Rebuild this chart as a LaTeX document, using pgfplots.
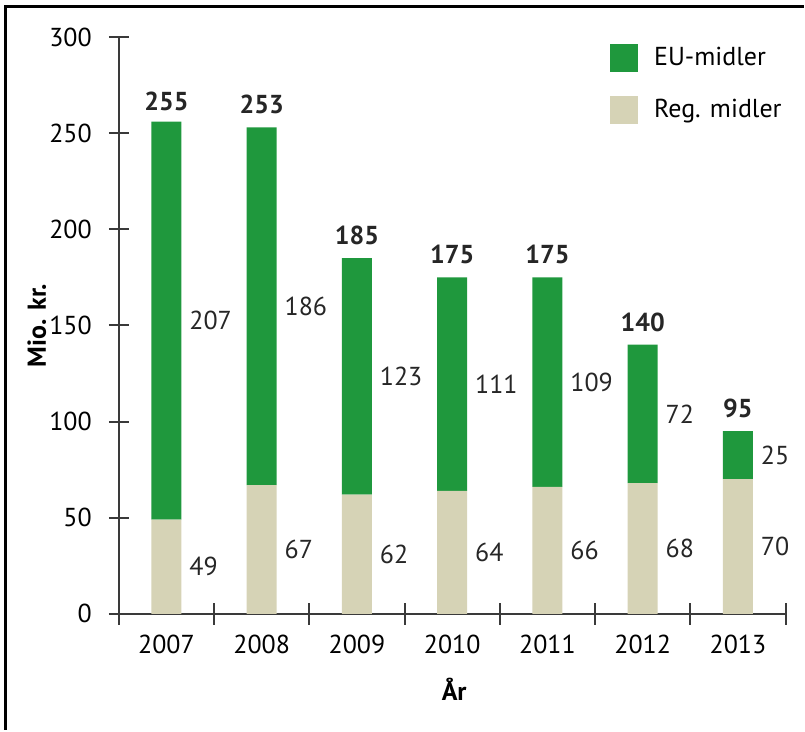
\documentclass[border=0pt]{standalone}
\usepackage{fontspec}
\setmainfont{PT Sans}
\usepackage{pgfplots}
\usepackage{pgfplotstable}
\pgfplotsset{compat=1.18}
\definecolor{eugreen}{HTML}{1F983D}
\definecolor{regbeige}{HTML}{D6D3B6}
\definecolor{axisgray}{HTML}{3A3A3A}

\pgfplotstableread{
x reg eu total
0 49 207 255
1 67 186 253
2 62 123 185
3 64 111 175
4 66 109 175
5 68 72 140
6 70 25 95
}\data

\pgfplotsset{
  /pgf/number format/assume math mode=true,
  base/.style={
    width=334pt, height=289pt, scale only axis,
    xmin=-0.5, xmax=6.5, ymin=0, ymax=300,
    clip=false,
  },
}

\begin{document}
\begin{tikzpicture}[font=\fontsize{13}{15}\selectfont]
\begin{axis}[base,
  at={(0,0)}, anchor=south west,
  ybar stacked, bar width=15pt,
  axis x line=bottom, axis y line=left,
  axis line style={-, axisgray, line width=1pt},
  tick style={axisgray, line width=1pt},
  tick align=center, major tick length=10pt, minor tick length=11pt,
  xtick={0,...,6},
  xticklabels={2007,2008,2009,2010,2011,2012,2013},
  major x tick style={draw=none},
  minor xtick={-0.5,0.5,...,6.5},
  ytick={0,50,...,300},
  xticklabel style={yshift=-2pt},
  yticklabel style={xshift=-5pt},
  xlabel={\bfseries År},
  xlabel style={at={(axis description cs:0.503,-0.13)}, anchor=center},
  ylabel={\bfseries Mio. kr.},
  ylabel style={at={(axis description cs:-0.123,0.5)}, anchor=center},
  reverse legend,
  legend style={at={(rel axis cs:0.7275,0.995)}, anchor=north west,
    draw=none, fill=none, row sep=12pt,
    nodes={inner sep=1pt}},
  legend cell align=left,
  legend image code/.code={\fill[#1] (0pt,-7pt) rectangle (14pt,7pt); \path (21pt,0pt);},
]
\addplot[fill=regbeige, draw=none] table[x=x, y=reg] {\data};
\addlegendentry{Reg. midler}
\addplot[fill=eugreen, draw=none] table[x=x, y=eu] {\data};
\addlegendentry{EU-midler}
\end{axis}

\begin{axis}[base, at={(0,0)}, anchor=south west, hide axis]
% Reg. midler values, right of the bars
\addplot[draw=none, mark=none, nodes near coords, point meta=explicit,
  every node near coord/.style={anchor=west, xshift=8pt, text=black!85}]
  table[x=x, y expr=\thisrow{reg}/2, meta=reg] {\data};
% EU-midler values, right of the bars
\addplot[draw=none, mark=none, nodes near coords, point meta=explicit,
  every node near coord/.style={anchor=west, xshift=8pt, text=black!85}]
  table[x=x, y expr=\thisrow{reg}+\thisrow{eu}/2, meta=eu] {\data};
% totals above the bars
\addplot[draw=none, mark=none, nodes near coords, point meta=explicit,
  every node near coord/.style={anchor=south, yshift=3pt, font=\fontsize{13}{15}\selectfont\bfseries, text=black!85}]
  table[x=x, y=total, meta=total] {\data};
\end{axis}

\draw[line width=1.5pt] (-56.5pt,-58pt) -- (-56.5pt,304pt) -- (343pt,304pt);
\path[use as bounding box] (-59.5pt,-58pt) rectangle (343pt,307.5pt);
\end{tikzpicture}
\end{document}
